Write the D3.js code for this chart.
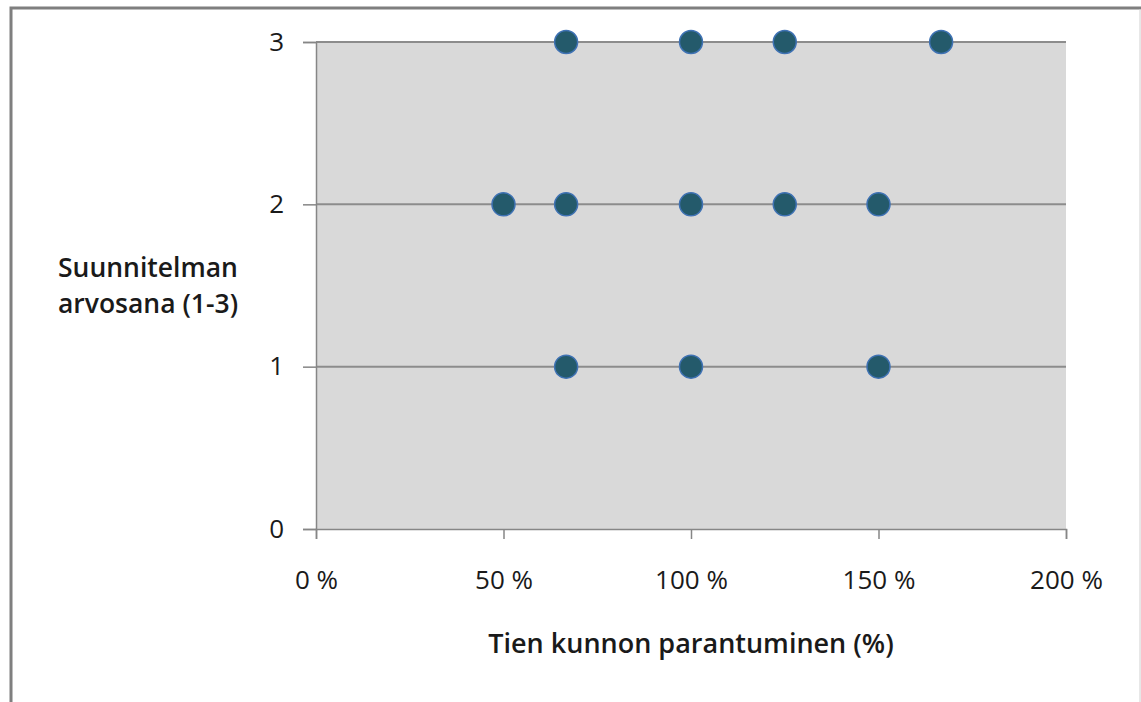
<!DOCTYPE html>
<html>
<head>
<meta charset="utf-8">
<script src="https://cdn.jsdelivr.net/npm/d3@7"></script>
<style>
  html, body { margin: 0; padding: 0; background: #fff; }
  svg { display: block; }
  text { font-family: "Open Sans", "DejaVu Sans", sans-serif; fill: #1a1a1a; }
</style>
</head>
<body>
<svg id="chart" width="1141" height="702"></svg>
<script>
// Observations: road-condition improvement (%) and plan grade (1-3)
const improvement = [66.7, 100, 125, 166.7, 50, 66.7, 100, 125, 150, 66.7, 100, 150];
const grade       = [3,    3,   3,   3,     2,  2,    2,   2,   2,   1,    1,   1];

const xTicks = [0, 50, 100, 150, 200];
const yTicks = [0, 1, 2, 3];

const xTitle = "Tien kunnon parantuminen (%)";
const yTitle = ["Suunnitelman", "arvosana (1-3)"];

const W = 1141, H = 702;
const plot = { left: 316, right: 1066, top: 42, bottom: 529 };

const svg = d3.select("#chart");

// outer chart frame
svg.append("rect")
  .attr("x", 11).attr("y", 8)
  .attr("width", W - 11 + 5).attr("height", H)
  .attr("fill", "none").attr("stroke", "#7f7f7f").attr("stroke-width", 3);
svg.append("line")
  .attr("x1", W - 1).attr("x2", W - 1).attr("y1", 9).attr("y2", H)
  .attr("stroke", "#d0d0d0").attr("stroke-width", 1);

const x = d3.scaleLinear().domain([0, 200]).range([plot.left, plot.right]);
const y = d3.scaleLinear().domain([0, 3]).range([plot.bottom, plot.top]);

// plot area
svg.append("rect")
  .attr("x", plot.left).attr("y", plot.top)
  .attr("width", plot.right - plot.left).attr("height", plot.bottom - plot.top)
  .attr("fill", "#d9d9d9");

// horizontal gridlines
svg.append("g")
  .selectAll("line")
  .data(yTicks.filter(d => d > 0))
  .join("line")
  .attr("x1", plot.left).attr("x2", plot.right)
  .attr("y1", d => y(d)).attr("y2", d => y(d))
  .attr("stroke", "#8c8c8c").attr("stroke-width", 2);

// y axis
const yAxis = svg.append("g")
  .attr("transform", `translate(${plot.left},0)`)
  .call(d3.axisLeft(y).tickValues(yTicks).tickFormat(d3.format("d")).tickSize(13).tickPadding(19));
yAxis.select(".domain").attr("stroke", "#868686").attr("stroke-width", 1.5);
yAxis.selectAll(".tick line").attr("stroke", "#868686").attr("stroke-width", 1.5);
yAxis.selectAll(".tick text")
  .style("font-family", "'Open Sans', sans-serif").attr("font-size", 26).attr("fill", "#1a1a1a");

// x axis
const xAxis = svg.append("g")
  .attr("transform", `translate(0,${plot.bottom})`)
  .call(d3.axisBottom(x).tickValues(xTicks).tickFormat(d => d + " %").tickSize(10).tickPadding(32));
xAxis.select(".domain").attr("stroke", "#868686").attr("stroke-width", 1.5);
xAxis.selectAll(".tick line").attr("stroke", "#868686").attr("stroke-width", 1.5);
xAxis.selectAll(".tick text")
  .style("font-family", "'Open Sans', sans-serif").attr("font-size", 26).attr("fill", "#1a1a1a");

// points
svg.append("g")
  .selectAll("circle")
  .data(improvement.map((v, i) => ({ v, g: grade[i] })))
  .join("circle")
  .attr("cx", d => x(d.v))
  .attr("cy", d => y(d.g))
  .attr("r", 11.5)
  .attr("fill", "#245a6b")
  .attr("stroke", "#3f72b4")
  .attr("stroke-width", 1.5);

// axis titles
svg.append("text")
  .attr("x", (plot.left + plot.right) / 2).attr("y", 653)
  .attr("text-anchor", "middle")
  .attr("font-size", 27).attr("font-weight", 600)
  .text(xTitle);

svg.append("g")
  .selectAll("text")
  .data(yTitle)
  .join("text")
  .attr("x", 148)
  .attr("y", (d, i) => 277 + i * 36)
  .attr("text-anchor", "middle")
  .attr("font-size", 26.5).attr("font-weight", 600)
  .text(d => d);
</script>
</body>
</html>
